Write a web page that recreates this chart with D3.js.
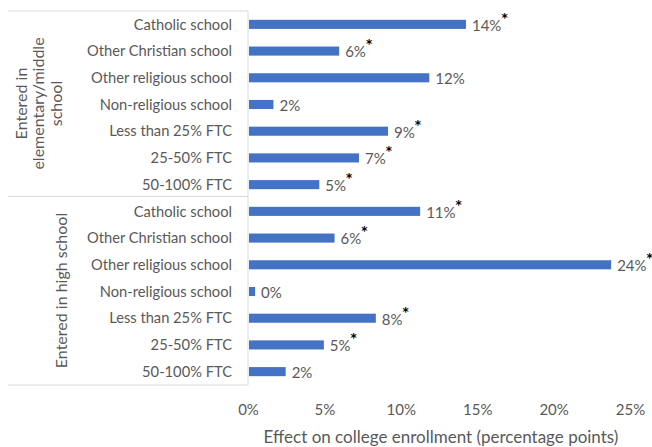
<!DOCTYPE html>
<html>
<head>
<meta charset="utf-8">
<script src="https://cdn.jsdelivr.net/npm/d3@7"></script>
<style>
  body { margin: 0; background: #fff; }
  text { font-family: Lato, "Open Sans", sans-serif; }
</style>
</head>
<body>
<div class="board"></div>
<script>
// data
var categories = ['Catholic school', 'Other Christian school', 'Other religious school',
  'Non-religious school', 'Less than 25% FTC', '25-50% FTC', '50-100% FTC'];
var groups = ['Entered in elementary/middle school', 'Entered in high school'];
var groupLines = [['Entered in', 'elementary/middle', 'school'], ['Entered in high school']];
var elemValues = [14.2, 5.9, 11.8, 1.6, 9.1, 7.2, 4.6];
var highValues = [11.2, 5.6, 23.7, 0.4, 8.3, 4.9, 2.4];
var elemStar = [true, true, false, false, true, true, true];
var highStar = [true, true, true, false, true, true, false];
var xTicks = [0, 5, 10, 15, 20, 25];

var width = 652, height = 447;

var rows = [];
categories.forEach(function(c, i) {
  rows.push({ id: 'e' + i, cat: c, value: elemValues[i], star: elemStar[i] });
});
categories.forEach(function(c, i) {
  rows.push({ id: 'h' + i, cat: c, value: highValues[i], star: highStar[i] });
});

var svg = d3.select('.board').append('svg')
  .attr('width', width)
  .attr('height', height);

var x = d3.scaleLinear().domain([0, 25]).range([248, 630]);
var y = d3.scaleBand().domain(rows.map(function(d) { return d.id; }))
  .range([11, 385]).paddingInner(0.66).paddingOuter(0.33);

var grey = '#595959';
var lineCol = '#d9d9d9';

// frame lines of the category table
svg.append('line').attr('x1', x(0)).attr('x2', x(0)).attr('y1', 11).attr('y2', 385)
  .attr('stroke', lineCol);
[11, 196.5, 385].forEach(function(yy) {
  svg.append('line').attr('x1', 8).attr('x2', x(0)).attr('y1', yy).attr('y2', yy)
    .attr('stroke', lineCol);
});

// bars
svg.selectAll('rect.bar').data(rows)
  .enter().append('rect')
  .attr('class', 'bar')
  .attr('x', x(0) + 1)
  .attr('y', function(d) { return y(d.id); })
  .attr('width', function(d) { return x(d.value) - x(0); })
  .attr('height', y.bandwidth())
  .attr('fill', '#4472c4');

// category labels
svg.selectAll('text.cat').data(rows)
  .enter().append('text')
  .attr('class', 'cat')
  .attr('x', 232)
  .attr('y', function(d) { return y(d.id) + y.bandwidth() / 2; })
  .attr('dy', '0.35em')
  .attr('text-anchor', 'end')
  .attr('font-size', 14.7)
  .attr('fill', grey)
  .text(function(d) { return d.cat; });

// value labels with significance stars
var lab = svg.selectAll('text.val').data(rows)
  .enter().append('text')
  .attr('class', 'val')
  .attr('x', function(d) { return x(d.value) + 7; })
  .attr('y', function(d) { return y(d.id) + y.bandwidth() / 2; })
  .attr('dy', '0.42em')
  .attr('font-size', 15)
  .attr('fill', grey);
lab.append('tspan').text(function(d) { return d3.format('.0%')(Math.round(d.value) / 100); });
lab.filter(function(d) { return d.star; }).append('tspan')
  .attr('dy', -9)
  .attr('font-size', 12)
  .attr('font-weight', 'bold')
  .style('font-family', '"DejaVu Sans", sans-serif')
  .attr('fill', '#000')
  .text('*');

// group labels (rotated)
var gx = [[21, 38.5, 56], [61]];
var gy = [103.5, 290.5];
groupLines.forEach(function(lines, g) {
  lines.forEach(function(t, k) {
    svg.append('text')
      .attr('transform', 'translate(' + gx[g][k] + ',' + gy[g] + ') rotate(-90)')
      .attr('text-anchor', 'middle')
      .attr('dy', '0.35em')
      .attr('font-size', 16)
      .attr('fill', grey)
      .text(t);
  });
});

// x axis
var axis = svg.append('g')
  .attr('transform', 'translate(0,' + 410 + ')')
  .call(d3.axisBottom(x).tickValues(xTicks).tickSize(0).tickPadding(0)
    .tickFormat(function(d) { return d + '%'; }));
axis.select('.domain').remove();
axis.selectAll('text')
  .attr('font-size', 15)
  .attr('fill', grey)
  .attr('dy', '0.35em')
  .style('font-family', 'Lato, "Open Sans", sans-serif');

svg.append('text')
  .attr('x', 441)
  .attr('y', 437)
  .attr('dy', '0.35em')
  .attr('text-anchor', 'middle')
  .attr('font-size', 17)
  .attr('fill', grey)
  .text('Effect on college enrollment (percentage points)');
</script>
</body>
</html>
